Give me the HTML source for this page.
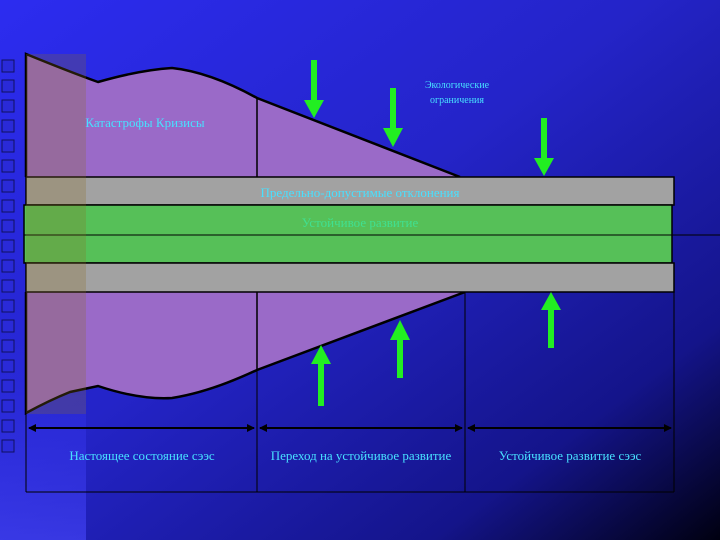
<!DOCTYPE html>
<html><head><meta charset="utf-8"><style>
html,body{margin:0;padding:0;width:720px;height:540px;overflow:hidden}
</style></head><body>
<svg width="720" height="540" viewBox="0 0 720 540" xmlns="http://www.w3.org/2000/svg" font-family="Liberation Serif, serif">
<defs>
<linearGradient id="bg" x1="0" y1="0" x2="1" y2="1">
<stop offset="0" stop-color="#2c2cf0"/><stop offset="0.45" stop-color="#2424c8"/><stop offset="0.8" stop-color="#14148a"/><stop offset="1" stop-color="#000010"/>
</linearGradient>
<linearGradient id="lb" x1="0" y1="0" x2="0" y2="1">
<stop offset="0" stop-color="#2c2cf0" stop-opacity="0"/><stop offset="1" stop-color="#4848ff" stop-opacity="0.6"/>
</linearGradient>
<marker id="ah" markerWidth="4" markerHeight="4" refX="3.5" refY="2" orient="auto-start-reverse"><path d="M0,0L4,2L0,4z" fill="#000"/></marker>
</defs>
<rect width="720" height="540" fill="url(#bg)"/>
<rect x="0" y="300" width="86" height="240" fill="url(#lb)"/>
<g fill="#2a2ad8" stroke="#101060" stroke-width="1">
<rect x="2" y="60" width="12" height="12"/><rect x="2" y="80" width="12" height="12"/><rect x="2" y="100" width="12" height="12"/><rect x="2" y="120" width="12" height="12"/><rect x="2" y="140" width="12" height="12"/><rect x="2" y="160" width="12" height="12"/><rect x="2" y="180" width="12" height="12"/><rect x="2" y="200" width="12" height="12"/><rect x="2" y="220" width="12" height="12"/><rect x="2" y="240" width="12" height="12"/><rect x="2" y="260" width="12" height="12"/><rect x="2" y="280" width="12" height="12"/><rect x="2" y="300" width="12" height="12"/><rect x="2" y="320" width="12" height="12"/><rect x="2" y="340" width="12" height="12"/><rect x="2" y="360" width="12" height="12"/><rect x="2" y="380" width="12" height="12"/><rect x="2" y="400" width="12" height="12"/><rect x="2" y="420" width="12" height="12"/><rect x="2" y="440" width="12" height="12"/>
</g>
<path d="M26,54 Q70,72 98,82 Q140,70 172,68 Q210,72 257,98 L460,177 L26,177 Z" fill="#9a6ac8"/>
<path d="M26,177 L26,54 Q70,72 98,82 Q140,70 172,68 Q210,72 257,98 L460,177" fill="none" stroke="#000" stroke-width="2.5"/>
<line x1="257" y1="98" x2="257" y2="177" stroke="#000" stroke-width="1.5"/>
<path d="M26,292 L26,413 Q50,400 70,392 L98,386 Q140,400 172,398 Q210,392 257,370 L465,292 Z" fill="#9a6ac8"/>
<path d="M26,292 L26,413 Q50,400 70,392 L98,386 Q140,400 172,398 Q210,392 257,370 L465,292" fill="none" stroke="#000" stroke-width="2.5"/>
<line x1="257" y1="292" x2="257" y2="370" stroke="#000" stroke-width="1.5"/>
<rect x="26" y="177" width="648" height="28" fill="#a2a2a2" stroke="#000" stroke-width="1.5"/>
<rect x="24" y="205" width="648" height="58" fill="#56c058" stroke="#000" stroke-width="1.5"/>
<line x1="24" y1="235" x2="720" y2="235" stroke="#000" stroke-width="1"/>
<rect x="26" y="263" width="648" height="29" fill="#a2a2a2" stroke="#000" stroke-width="1.5"/>
<rect x="26" y="54" width="60" height="360" fill="#8a6a20" opacity="0.25"/>
<g stroke="#000" stroke-width="1">
<line x1="257" y1="292" x2="257" y2="492"/><line x1="465" y1="292" x2="465" y2="492"/><line x1="674" y1="292" x2="674" y2="492"/>
<line x1="26" y1="413" x2="26" y2="492"/><line x1="26" y1="492" x2="674" y2="492"/>
</g>
<g stroke="#000" stroke-width="2" marker-end="url(#ah)" marker-start="url(#ah)">
<line x1="29" y1="428" x2="254" y2="428"/><line x1="260" y1="428" x2="462" y2="428"/><line x1="468" y1="428" x2="671" y2="428"/>
</g>
<g fill="#22ee22">
<rect x="311" y="60" width="6" height="42"/><path d="M304,100 L324,100 L314,118 Z"/>
<rect x="390" y="88" width="6" height="42"/><path d="M383,128 L403,128 L393,147 Z"/>
<rect x="541" y="118" width="6" height="42"/><path d="M534,158 L554,158 L544,176 Z"/>
<rect x="318" y="362" width="6" height="44"/><path d="M311,364 L331,364 L321,345 Z"/>
<rect x="397" y="338" width="6" height="40"/><path d="M390,340 L410,340 L400,320 Z"/>
<rect x="548" y="308" width="6" height="40"/><path d="M541,310 L561,310 L551,292 Z"/>
</g>
<g fill="#48e0ff" text-anchor="middle">
<text x="457" y="88" font-size="10">Экологические</text>
<text x="457" y="103" font-size="10">ограничения</text>
<text x="145" y="127" font-size="13">Катастрофы Кризисы</text>
<text x="360" y="197" font-size="13">Предельно-допустимые отклонения</text>
<text x="360" y="227" font-size="13" fill="#40e090">Устойчивое развитие</text>
<text x="142" y="460" font-size="13">Настоящее состояние сээс</text>
<text x="361" y="460" font-size="13">Переход на устойчивое развитие</text>
<text x="570" y="460" font-size="13">Устойчивое развитие сээс</text>
</g>
</svg>
</body></html>
